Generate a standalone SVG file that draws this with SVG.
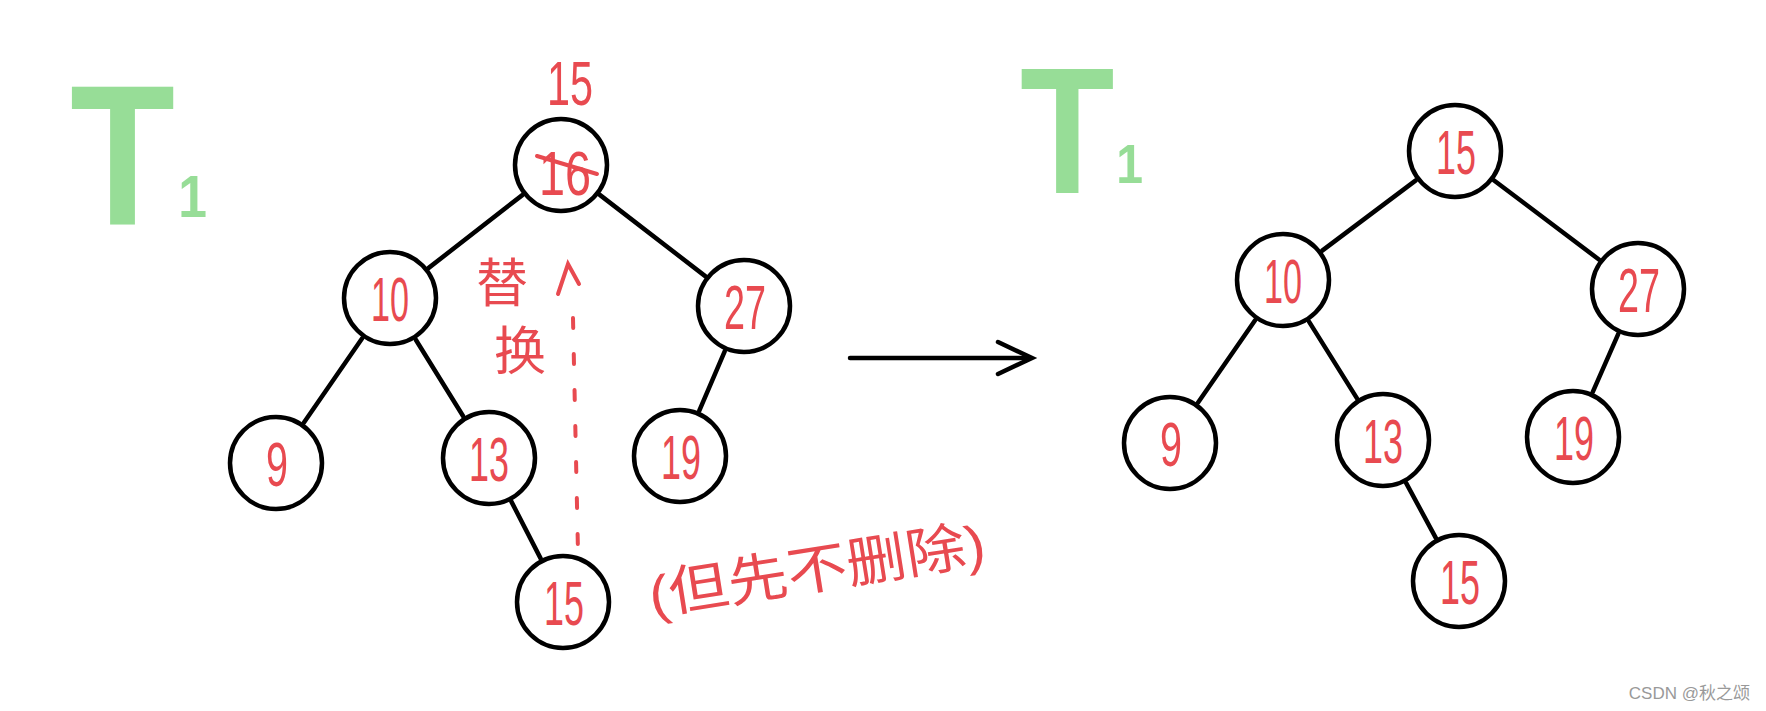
<svg xmlns="http://www.w3.org/2000/svg" width="1766" height="711" viewBox="0 0 1766 711">
<style>
.node circle{fill:#fff;stroke:#000;stroke-width:4.5}
.num{font-family:"Liberation Sans",sans-serif;font-size:63px;fill:#e84a50;text-anchor:middle}
.edge{stroke:#000;stroke-width:4.5;stroke-linecap:round;fill:none}
.red{fill:#e84a50;font-family:"Liberation Sans","Noto Sans CJK SC",sans-serif}
.redline{stroke:#e84a50;stroke-width:4;stroke-linecap:round;fill:none}
.green{fill:#86d886;opacity:0.85;font-family:"Liberation Sans",sans-serif;font-weight:bold}
</style>
<rect width="1766" height="711" fill="#fff"/>
<g id="label-T1-left">
<text class="green" transform="translate(70,225) scale(0.86,1)"><tspan x="0" y="0" font-size="200">T</tspan><tspan x="126" y="-8" font-size="60">1</tspan></text>
</g>
<g id="label-T1-right">
<text class="green" transform="translate(1020,193) scale(0.86,1)"><tspan x="0" y="0" font-size="180">T</tspan><tspan x="112" y="-10" font-size="56">1</tspan></text>
</g>
<g id="connectors">
<line class="edge" x1="522.3" y1="195.1" x2="428.7" y2="267.9"/>
<line class="edge" x1="599.8" y1="194.9" x2="705.2" y2="276.1"/>
<line class="edge" x1="362.2" y1="338.3" x2="303.8" y2="422.7"/>
<line class="edge" x1="415.8" y1="339.7" x2="463.2" y2="416.3"/>
<line class="edge" x1="724.8" y1="351.1" x2="699.2" y2="410.9"/>
<line class="edge" x1="511.4" y1="501.6" x2="540.6" y2="558.4"/>
<line class="edge" x1="1415.8" y1="180.4" x2="1322.2" y2="250.6"/>
<line class="edge" x1="1494.1" y1="180.5" x2="1598.9" y2="259.5"/>
<line class="edge" x1="1255.1" y1="320.3" x2="1197.9" y2="402.7"/>
<line class="edge" x1="1309" y1="321.6" x2="1357" y2="398.4"/>
<line class="edge" x1="1618.3" y1="333.9" x2="1592.7" y2="392.1"/>
<line class="edge" x1="1406.2" y1="483.1" x2="1435.8" y2="537.9"/>
<line class="edge" x1="850" y1="358" x2="1030" y2="358"/>
<polyline class="edge" points="998,342 1032,358 998,374"/>
<line class="redline" x1="573" y1="318" x2="578" y2="552" stroke-width="3.5" stroke-dasharray="10 26"/>
<polyline class="redline" stroke-width="3.5" points="558,294 568,264 579,284"/>
</g>
<g id="node-L-root" class="node">
<circle cx="561" cy="165" r="46"/>
<text class="num" x="565" y="195" font-size="68" textLength="52" lengthAdjust="spacingAndGlyphs">16</text>
<line class="redline" x1="537" y1="156" x2="597" y2="174"/>
</g>
<g id="label-15-top"><text class="num" x="570" y="105" font-size="72" textLength="46" lengthAdjust="spacingAndGlyphs">15</text></g>
<g id="node-L-10" class="node"><circle cx="390" cy="298" r="46"/><text class="num" x="390" y="321" textLength="38" lengthAdjust="spacingAndGlyphs">10</text></g>
<g id="node-L-27" class="node"><circle cx="744" cy="306" r="46"/><text class="num" x="745" y="329" textLength="42" lengthAdjust="spacingAndGlyphs">27</text></g>
<g id="node-L-9" class="node"><circle cx="276" cy="463" r="46"/><text class="num" x="277" y="486" textLength="22" lengthAdjust="spacingAndGlyphs">9</text></g>
<g id="node-L-13" class="node"><circle cx="489" cy="458" r="46"/><text class="num" x="489" y="481" textLength="40" lengthAdjust="spacingAndGlyphs">13</text></g>
<g id="node-L-19" class="node"><circle cx="680" cy="456" r="46"/><text class="num" x="681" y="479" textLength="40" lengthAdjust="spacingAndGlyphs">19</text></g>
<g id="node-L-15" class="node"><circle cx="563" cy="602" r="46"/><text class="num" x="564" y="625" textLength="40" lengthAdjust="spacingAndGlyphs">15</text></g>
<g id="note-replace">
<text class="red" x="502" y="302" font-size="52" text-anchor="middle">替</text>
<text class="red" x="520" y="370" font-size="52" text-anchor="middle">换</text>
</g>
<g id="note-keep">
<text class="red" x="652" y="615" font-size="54" textLength="340" lengthAdjust="spacingAndGlyphs" transform="rotate(-9 652 615)">(但先不删除)</text>
</g>
<g id="node-R-root" class="node"><circle cx="1455" cy="151" r="46"/><text class="num" x="1456" y="174" textLength="40" lengthAdjust="spacingAndGlyphs">15</text></g>
<g id="node-R-10" class="node"><circle cx="1283" cy="280" r="46"/><text class="num" x="1283" y="303" textLength="38" lengthAdjust="spacingAndGlyphs">10</text></g>
<g id="node-R-27" class="node"><circle cx="1638" cy="289" r="46"/><text class="num" x="1639" y="312" textLength="42" lengthAdjust="spacingAndGlyphs">27</text></g>
<g id="node-R-9" class="node"><circle cx="1170" cy="443" r="46"/><text class="num" x="1171" y="466" textLength="22" lengthAdjust="spacingAndGlyphs">9</text></g>
<g id="node-R-13" class="node"><circle cx="1383" cy="440" r="46"/><text class="num" x="1383" y="463" textLength="40" lengthAdjust="spacingAndGlyphs">13</text></g>
<g id="node-R-19" class="node"><circle cx="1573" cy="437" r="46"/><text class="num" x="1574" y="460" textLength="40" lengthAdjust="spacingAndGlyphs">19</text></g>
<g id="node-R-15" class="node"><circle cx="1459" cy="581" r="46"/><text class="num" x="1460" y="604" textLength="40" lengthAdjust="spacingAndGlyphs">15</text></g>
<g id="watermark"><text x="1750" y="699" font-size="17" fill="#999" text-anchor="end" font-family="'Liberation Sans','Noto Sans CJK SC',sans-serif">CSDN @秋之颂</text></g>
</svg>
